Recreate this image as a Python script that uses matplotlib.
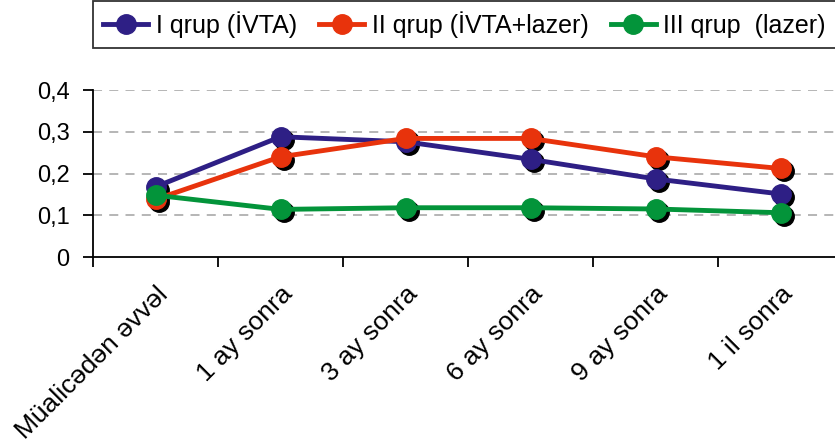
import matplotlib
matplotlib.use("Agg")
import matplotlib.pyplot as plt
import matplotlib.transforms as mtransforms
from matplotlib.ticker import FuncFormatter, FixedLocator

plt.rcParams["font.family"] = ["Liberation Sans", "DejaVu Sans"]

# ── Data ──────────────────────────────────────────────────────────────────────
categories = ["Müalicədən əvvəl", "1 ay sonra", "3 ay sonra",
              "6 ay sonra", "9 ay sonra", "1 il sonra"]
grp1 = [0.168, 0.288, 0.276, 0.234, 0.187, 0.151]
grp2 = [0.138, 0.240, 0.284, 0.284, 0.240, 0.212]
grp3 = [0.148, 0.114, 0.118, 0.118, 0.115, 0.106]
labels = ["I qrup (İVTA)", "II qrup (İVTA+lazer)", "III qrup  (lazer)"]
colors = ["#2e1f85", "#e8330c", "#03943a"]

# ── Figure ────────────────────────────────────────────────────────────────────
fig = plt.figure(figsize=(8.35, 4.47), dpi=100)
ax = fig.add_axes([93 / 835, 190 / 447, 750 / 835, 167 / 447])

x = list(range(len(categories)))
shadow = mtransforms.offset_copy(ax.transData, fig=fig, x=3, y=-3, units="dots")

for vals, col, lab in zip([grp1, grp2, grp3], colors, labels):
    ax.plot(x, vals, "o", color="black", ms=14, transform=shadow, zorder=3)
    ax.plot(x, vals, "-o", color=col, lw=3.5, ms=14, label=lab, zorder=4)

ax.set_xlim(-0.5, len(categories) - 0.5)
ax.set_ylim(0, 0.4)
ax.set_yticks([0, 0.1, 0.2, 0.3, 0.4])
ax.yaxis.set_major_formatter(FuncFormatter(lambda v, p: "0" if v == 0 else f"{v:.1f}".replace(".", ",")))
for yv in [0.1, 0.2, 0.3, 0.4]:
    ax.axhline(yv, color="#b0b0b0", lw=1.3, ls=(0, (5, 4)), zorder=1)

ax.xaxis.set_major_locator(FixedLocator([i - 0.5 for i in range(len(categories) + 1)]))
ax.xaxis.set_major_formatter(FuncFormatter(lambda v, p: ""))
ax.xaxis.set_minor_locator(FixedLocator(x))
ax.set_xticklabels(categories, minor=True, rotation=45, ha="right", va="top",
                   rotation_mode="anchor", fontsize=19)
shift = mtransforms.ScaledTranslation(3 / 100, 0, fig.dpi_scale_trans)
for t in ax.get_xticklabels(minor=True):
    t.set_transform(t.get_transform() + shift)
ax.tick_params(axis="x", which="minor", length=0, pad=18)
ax.tick_params(axis="x", which="major", length=7, width=1.3, direction="out")
ax.tick_params(axis="y", length=7, width=1.3, labelsize=17, pad=10)

for s in ["top", "right"]:
    ax.spines[s].set_visible(False)
for s in ["left", "bottom"]:
    ax.spines[s].set_linewidth(1.3)

leg = fig.legend(loc="upper left", bbox_to_anchor=(93 / 835, 0.998),
                 ncol=3, fontsize=18, frameon=True, fancybox=False,
                 edgecolor="black", handlelength=1.8, handletextpad=0.3,
                 columnspacing=0.9, borderpad=0.4, borderaxespad=0.0)
leg.get_frame().set_linewidth(1.3)

fig.savefig("out.png", dpi=100)
